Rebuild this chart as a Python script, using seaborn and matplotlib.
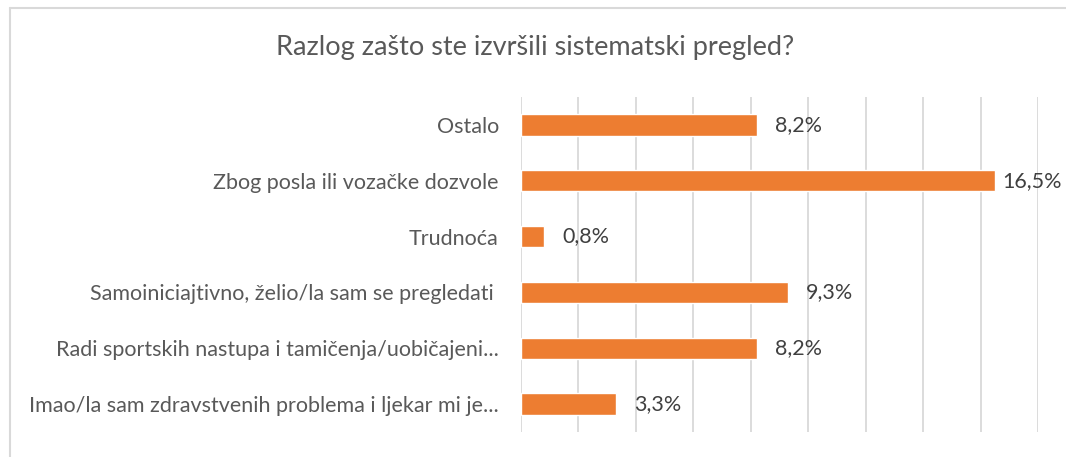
import matplotlib
matplotlib.use("Agg")
import matplotlib.pyplot as plt
import seaborn as sns
import pandas as pd
from matplotlib.lines import Line2D

categories = [
    "Ostalo",
    "Zbog posla ili vozačke dozvole",
    "Trudnoća",
    "Samoiniciajtivno, želio/la sam se pregledati ",
    "Radi sportskih nastupa i tamičenja/uobičajeni...",
    "Imao/la sam zdravstvenih problema i ljekar mi je...",
]
values = [8.2, 16.5, 0.8, 9.3, 8.2, 3.3]
value_labels = ["8,2%", "16,5%", "0,8%", "9,3%", "8,2%", "3,3%"]
title = "Razlog zašto ste izvršili sistematski pregled?"

df = pd.DataFrame({"cat": categories, "val": values})

sns.set_theme(style="white")
plt.rcParams["font.family"] = ["Lato", "DejaVu Sans"]

W, H = 1066, 457
fig = plt.figure(figsize=(W / 100, H / 100), dpi=100)
ax = fig.add_axes([521 / W, 1 - 432 / H, (1038 - 521) / W, (432 - 97) / H])

sns.barplot(data=df, x="val", y="cat", orient="h", color="#ED7D31",
            saturation=1, width=0.38, ax=ax, order=categories)

ax.set_xlim(0, 18)
ax.set_ylim(5.5, -0.5)
ax.set_xticks(range(0, 19, 2))
ax.set_xticklabels([])
ax.tick_params(axis="x", length=0)
ax.tick_params(axis="y", length=0, pad=16, labelsize=15.5, labelcolor="#595959")
ax.grid(axis="x", color="#D9D9D9", linewidth=1.3)
ax.set_axisbelow(True)
for s in ax.spines.values():
    s.set_visible(False)
ax.set_xlabel("")
ax.set_ylabel("")

for i, (v, lab) in enumerate(zip(values, value_labels)):
    off = 13 if v < max(values) else 5
    ax.annotate(lab, xy=(v, i), xytext=(off, 0), textcoords="offset points",
                ha="left", va="center", fontsize=15.5, color="#404040")

fig.text(535 / W, 1 - 47 / H, title, ha="center", va="center",
         fontsize=19.5, color="#595959", fontweight="normal")

fig.add_artist(Line2D([10 / W, 1], [1 - 7.5 / H, 1 - 7.5 / H],
                      transform=fig.transFigure, color="#D9D9D9", linewidth=1.5))
fig.add_artist(Line2D([10 / W, 10 / W], [0, 1 - 7.5 / H],
                      transform=fig.transFigure, color="#D9D9D9", linewidth=1.5))

fig.savefig("out.png", dpi=100, facecolor="white")
